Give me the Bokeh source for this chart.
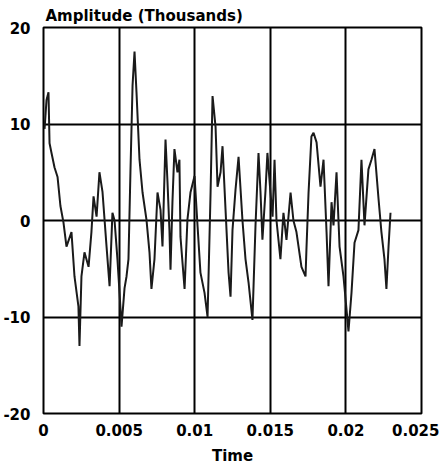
from bokeh.plotting import figure
from bokeh.models import FixedTicker, CustomJSTickFormatter, ColumnDataSource
from bokeh.embed import file_html
from bokeh.resources import INLINE

# Time (s) and amplitude (thousands)
time = [0.00007, 0.00020, 0.00033, 0.00040, 0.00053, 0.00073, 0.00093, 0.00112, 0.00132, 0.00152,
        0.00185, 0.00205, 0.00231, 0.00238, 0.00251, 0.00271, 0.00298, 0.00317, 0.00331, 0.00351,
        0.00370, 0.00390, 0.00417, 0.00437, 0.00456, 0.00470, 0.00489, 0.00503, 0.00516, 0.00536,
        0.00549, 0.00562, 0.00575, 0.00589, 0.00602, 0.00615, 0.00635, 0.00655, 0.00681, 0.00701,
        0.00714, 0.00734, 0.00754, 0.00774, 0.00787, 0.00807, 0.00820, 0.00833, 0.00840, 0.00853,
        0.00866, 0.00886, 0.00899, 0.00906, 0.00933, 0.00952, 0.00972, 0.00999, 0.01019, 0.01038,
        0.01065, 0.01085, 0.01105, 0.01118, 0.01138, 0.01151, 0.01171, 0.01184, 0.01204, 0.01224,
        0.01237, 0.01250, 0.01270, 0.01290, 0.01316, 0.01336, 0.01356, 0.01382, 0.01402, 0.01422,
        0.01435, 0.01448, 0.01468, 0.01481, 0.01501, 0.01515, 0.01528, 0.01541, 0.01567, 0.01587,
        0.01607, 0.01634, 0.01653, 0.01673, 0.01706, 0.01733, 0.01739, 0.01753, 0.01772, 0.01786,
        0.01806, 0.01832, 0.01852, 0.01872, 0.01885, 0.01905, 0.01918, 0.01938, 0.01958, 0.01984,
        0.02004, 0.02017, 0.02037, 0.02057, 0.02083, 0.02103, 0.02123, 0.02149, 0.02169, 0.02189,
        0.02216, 0.02235, 0.02255, 0.02268, 0.02282, 0.02295]
amplitude = [9.5, 12.5, 13.3, 8.0, 7.0, 5.5, 4.5, 1.5, -0.2, -2.7,
             -1.2, -5.8, -8.9, -13.0, -5.8, -3.3, -4.8, -1.2, 2.5, 0.4,
             5.0, 3.0, -2.7, -6.8, 0.8, 0.0, -4.0, -7.5, -11.0, -7.0,
             -5.8, -4.0, 5.0, 14.0, 17.5, 13.3, 6.3, 2.9, 0.1, -3.3,
             -7.1, -4.0, 2.9, 1.1, -2.7, 8.4, 4.0, -1.0, -5.1, 2.0,
             7.4, 5.0, 6.3, -1.7, -7.1, 0.1, 2.9, 4.6, -0.6, -5.4,
             -7.5, -10.0, 2.9, 12.9, 9.7, 3.5, 5.0, 7.7, 1.1, -5.4,
             -7.9, -1.0, 3.2, 6.6, 0.0, -4.0, -6.4, -10.3, -0.6, 7.0,
             3.0, -2.0, 3.0, 7.0, 2.9, 0.4, 6.3, 0.0, -4.0, 0.8,
             -2.0, 2.9, 0.0, -1.2, -4.8, -5.8, -3.0, 2.9, 8.7, 9.1,
             8.1, 3.5, 6.3, -1.2, -6.8, 1.9, -0.5, 5.0, -2.7, -5.8,
             -9.2, -11.5, -7.5, -2.3, -1.0, 6.3, -0.5, 5.3, 6.3, 7.4,
             2.2, -1.2, -4.0, -7.1, -2.7, 0.8]

x_ticks = [0, 0.005, 0.01, 0.015, 0.02, 0.025]
y_ticks = [-20, -10, 0, 10, 20]
title_text = "Amplitude (Thousands)"
x_label = "Time"

FONT = "DejaVu Sans"

src = ColumnDataSource(data=dict(t=time, a=amplitude))

p = figure(output_backend="svg", toolbar_location=None,
           x_range=(0, 0.025), y_range=(-20, 20),
           frame_width=378, frame_height=386,
           min_border_left=40, min_border_right=18, min_border_top=27, min_border_bottom=49)
p.background_fill_color = "white"
p.border_fill_color = "white"
p.outline_line_color = "black"
p.outline_line_width = 2

p.title.text = title_text
p.title.align = "left"
p.title.offset = 2
p.title.standoff = 5
p.title.text_font = FONT
p.title.text_font_style = "bold"
p.title.text_font_size = "15px"
p.title.text_color = "black"

p.line("t", "a", source=src, line_color="#1a1a1a", line_width=2)

for ax in (p.xaxis[0], p.yaxis[0]):
    ax.axis_line_color = None
    ax.major_tick_line_color = None
    ax.minor_tick_line_color = None
    ax.major_label_text_font = FONT
    ax.major_label_text_font_style = "bold"
    ax.major_label_text_font_size = "15px"
    ax.major_label_text_color = "black"

p.xaxis.ticker = FixedTicker(ticks=x_ticks)
p.yaxis.ticker = FixedTicker(ticks=y_ticks)
p.xaxis.formatter = CustomJSTickFormatter(code="""
let s = tick.toFixed(3);
s = s.replace(/0+$/, '').replace(/\\.$/, '');
return s;
""")
p.yaxis.formatter = CustomJSTickFormatter(code="return tick.toFixed(0);")
p.xaxis.major_label_standoff = 4
p.yaxis.major_label_standoff = 7

p.xaxis.axis_label = x_label
p.xaxis.axis_label_text_font = FONT
p.xaxis.axis_label_text_font_style = "bold"
p.xaxis.axis_label_text_font_size = "15px"
p.xaxis.axis_label_text_color = "black"
p.xaxis.axis_label_standoff = 8

p.xgrid.ticker = FixedTicker(ticks=x_ticks)
p.ygrid.ticker = FixedTicker(ticks=y_ticks)
p.grid.grid_line_color = "black"
p.grid.grid_line_width = 2
p.grid.grid_line_alpha = 1

open("out.html", "w").write(file_html(p, INLINE))
